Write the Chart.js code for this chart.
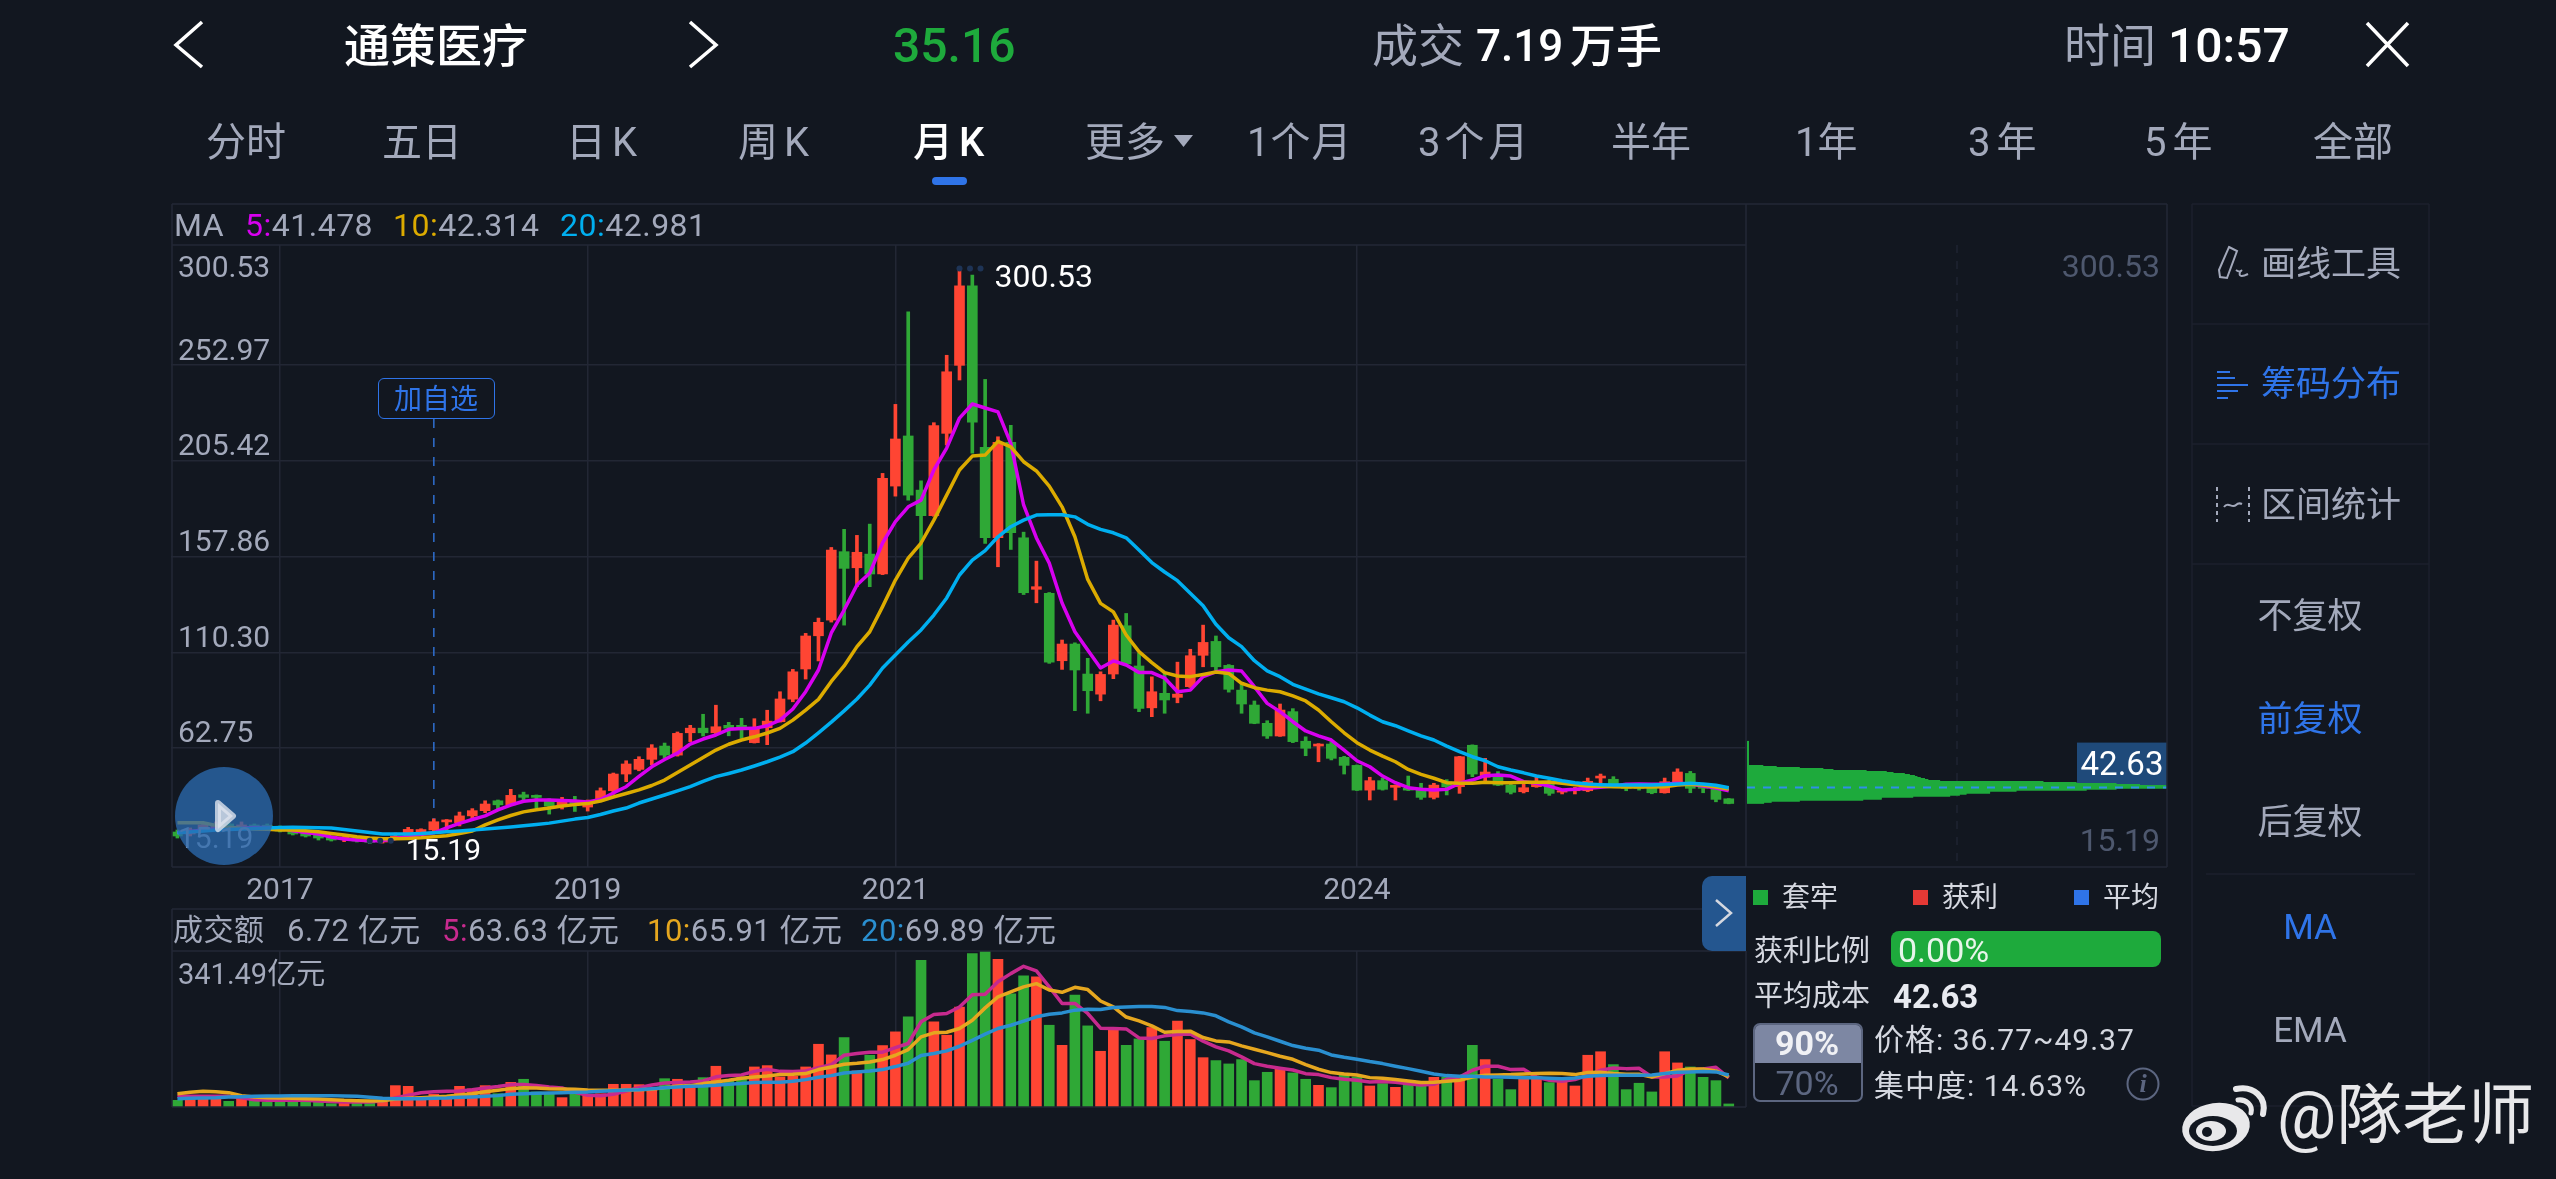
<!DOCTYPE html>
<html lang="zh">
<head>
<meta charset="utf-8">
<title>通策医疗 月K</title>
<script src="https://cdn.jsdelivr.net/npm/chart.js@4"></script>
<style>
  html, body { margin: 0; padding: 0; background: #121720; }
  body { width: 2556px; height: 1179px; overflow: hidden; position: relative; font-family: Roboto, "Noto Sans CJK SC", sans-serif; color: #a3a9bb; }
  canvas { position: absolute; display: block; }
  #mainChart { left: 171px; top: 245px; z-index: 1; }
  #volChart { left: 171px; top: 951px; z-index: 1; }
  #sidePanel { position: absolute; left: 1747px; top: 205px; width: 420px; height: 661px; background: #121720; z-index: 2; }
  #chipChart { left: 0; top: 40px; }
  #ui { position: absolute; left: 0; top: 0; z-index: 3; }
  .t { position: absolute; white-space: nowrap; line-height: 1; transform: translateY(-50%); z-index: 4; }
  .c { transform: translate(-50%, -50%); }
  .tab { font-size: 40px; }
  .hd { font-size: 32px; letter-spacing: 0.5px; }
  .hd2 { font-size: 31px; letter-spacing: 0.5px; }
  .menu { font-size: 35px; }
  .st { font-size: 28px; color: #d5d8e0; }
  .st2 { font-size: 30px; letter-spacing: 1px; color: #d5d8e0; }
  .w { color: #fff; font-weight: 500; }
  .blue { color: #2f74e8; }
  #addBox { position: absolute; left: 378px; top: 378px; width: 115px; height: 39px; border: 1.5px solid #2f74e8; border-radius: 6px; z-index: 4; }
  #greenBar { position: absolute; left: 1891px; top: 931px; width: 270px; height: 36px; background: #1eaa3c; border-radius: 8px; z-index: 4; }
  #rangeBox { position: absolute; left: 1753px; top: 1023px; width: 106px; height: 75px; border: 2px solid #5c6680; border-radius: 7px; overflow: hidden; z-index: 4; }
  #rangeBox div { height: 38px; background: #7d87a3; }
  #playBtn { position: absolute; left: 175px; top: 767px; z-index: 6; }
</style>
</head>
<body>

<canvas id="mainChart" width="1577" height="663"></canvas>
<canvas id="volChart" width="1577" height="156"></canvas>
<div id="sidePanel"><canvas id="chipChart" width="420" height="621"></canvas></div>

<!-- 边框和小图标 -->
<svg id="ui" width="2556" height="1179" fill="none">
  <g stroke="#232836" stroke-width="1.5">
    <path d="M172 204H2167M172 245H1746M172 867H2167M172 909H1746M172 951H1746M172 1107H1746"/>
    <path d="M172 204V867M172 909V1107M1746 204V867M1746 951V1107M2167 204V867"/>
  </g>
  <g stroke="#1c212c" stroke-width="1.5">
    <path d="M2192 204H2429M2192 324H2429M2192 444H2429M2192 564H2429M2192 1106H2429M2206 874H2415M2192 204V1106M2429 204V1106"/>
  </g>
  <g stroke="#fff" stroke-width="3.5" stroke-linejoin="miter">
    <path d="M202 22L176 45L202 67M690 22L716 45L690 67M2367 23L2408 66M2408 23L2367 66"/>
  </g>
  <path d="M1174 135H1193L1183.5 147Z" fill="#a3a9bb"/>
  <rect x="932" y="177" width="35" height="8" rx="4" fill="#2f74e8"/>
  <g stroke="#a3a9bb" stroke-width="2">
    <path d="M2229 247L2237 251L2227 278L2220 277L2219 270Z"/>
    <path d="M2236 270C2241 274 2243 268 2240 272C2238 278 2244 276 2248 274"/>
    <path d="M2217 487V522M2249 487V522" stroke-dasharray="4 4"/>
    <path d="M2224 507C2228 501 2232 509 2236 505C2238 503 2240 503 2242 504"/>
  </g>
  <g stroke="#2f74e8" stroke-width="2">
    <path d="M2217 372H2230M2217 378H2235M2217 385H2248M2217 391H2238M2217 398H2228"/>
  </g>
  <path d="M1702 886a10 10 0 0 1 10-10H1746V951H1712a10 10 0 0 1-10-10Z" fill="#24568f"/>
  <path d="M1716 900L1731 913L1716 926" stroke="#d5d8e0" stroke-width="2.5"/>
  <circle cx="2143" cy="1084" r="15.5" stroke="#5c6680" stroke-width="2"/>
  <!-- 水印的微博标志 -->
  <g>
    <ellipse cx="2216" cy="1127" rx="34" ry="24" fill="#e8e8ea" transform="rotate(-8 2216 1127)"/>
    <ellipse cx="2213" cy="1131" rx="24" ry="15" fill="#121720"/>
    <ellipse cx="2211" cy="1131" rx="15" ry="10" fill="#e8e8ea"/>
    <circle cx="2207" cy="1132" r="5" fill="#121720"/>
    <path d="M2236 1089C2254 1085 2267 1098 2263 1114" stroke="#e8e8ea" stroke-width="6" stroke-linecap="round"/>
    <path d="M2238 1100C2246 1099 2253 1105 2251 1113" stroke="#e8e8ea" stroke-width="5" stroke-linecap="round"/>
  </g>
</svg>

<!-- 顶部行情栏 -->
<div class="t" style="left:344px;top:46px;font-size:46px;font-weight:500;color:#fff">通策医疗</div>
<div class="t" style="left:893px;top:46px;font-size:48px;font-weight:500;color:#1eaa3c">35.16</div>
<div class="t" style="left:1372px;top:46px;font-size:46px">成交</div>
<div class="t w" style="left:1476px;top:46px;font-size:44px">7.19</div>
<div class="t w" style="left:1570px;top:46px;font-size:46px">万手</div>
<div class="t" style="left:2064px;top:46px;font-size:46px">时间</div>
<div class="t w" style="left:2168px;top:46px;font-size:48px">10:57</div>

<!-- 周期切换 -->
<div class="t tab" style="left:206px;top:143px">分时</div>
<div class="t tab" style="left:382px;top:143px">五日</div>
<div class="t tab" style="left:566px;top:143px">日<span style="margin-left:6px">K</span></div>
<div class="t tab" style="left:738px;top:143px">周<span style="margin-left:6px">K</span></div>
<div class="t tab" style="left:913px;top:143px;font-weight:500;color:#fff">月<span style="margin-left:6px">K</span></div>
<div class="t tab" style="left:1085px;top:143px">更多</div>
<div class="t tab" style="left:1247px;top:143px;letter-spacing:1px">1个月</div>
<div class="t tab" style="left:1418px;top:143px;letter-spacing:4px">3个月</div>
<div class="t tab" style="left:1611px;top:143px">半年</div>
<div class="t tab" style="left:1795px;top:143px">1年</div>
<div class="t tab" style="left:1968px;top:143px;letter-spacing:6px">3年</div>
<div class="t tab" style="left:2144px;top:143px;letter-spacing:6px">5年</div>
<div class="t tab" style="left:2313px;top:143px">全部</div>

<!-- 均线数值 -->
<div class="t hd" style="left:174px;top:225px">MA</div>
<div class="t hd" style="left:245px;top:225px"><span style="color:#d800f0">5:</span>41.478</div>
<div class="t hd" style="left:393px;top:225px"><span style="color:#dcab00">10:</span>42.314</div>
<div class="t hd" style="left:560px;top:225px"><span style="color:#00aff0">20:</span>42.981</div>

<div class="t hd2" style="left:173px;top:930px;font-size:30px">成交额</div>
<div class="t hd2" style="left:287px;top:930px">6.72 亿元</div>
<div class="t hd2" style="left:442px;top:930px"><span style="color:#c72a8e">5:</span>63.63 亿元</div>
<div class="t hd2" style="left:647px;top:930px"><span style="color:#e6a71f">10:</span>65.91 亿元</div>
<div class="t hd2" style="left:861px;top:930px"><span style="color:#2a8fd0">20:</span>69.89 亿元</div>
<div class="t" style="left:178px;top:974px;font-size:29px">341.49亿元</div>

<div id="addBox"></div>
<div class="t c blue" style="left:436px;top:400px;font-size:28px">加自选</div>

<!-- 筹码分布说明 -->
<svg style="position:absolute;left:1753px;top:890px;z-index:4" width="340" height="16">
  <rect x="0" y="0" width="15" height="15" fill="#1eaa3c"/>
  <rect x="160" y="0" width="15" height="15" fill="#e53935"/>
  <rect x="321" y="0" width="15" height="15" fill="#2f74e8"/>
</svg>
<div class="t st" style="left:1782px;top:898px">套牢</div>
<div class="t st" style="left:1942px;top:898px">获利</div>
<div class="t st" style="left:2103px;top:898px">平均</div>
<div class="t st" style="left:1754px;top:951px;font-size:29px">获利比例</div>
<div id="greenBar"></div>
<div class="t" style="left:1898px;top:950px;font-size:34px;color:#e8f5ea;z-index:5">0.00%</div>
<div class="t st" style="left:1754px;top:996px;font-size:29px">平均成本</div>
<div class="t" style="left:1893px;top:996px;font-size:33px;font-weight:700;color:#e8eaf0">42.63</div>
<div id="rangeBox"><div></div></div>
<div class="t c" style="left:1807px;top:1043px;font-size:34px;font-weight:700;color:#f0f1f5;z-index:5">90%</div>
<div class="t c" style="left:1807px;top:1083px;font-size:34px;color:#5c6680;z-index:5">70%</div>
<div class="t st2" style="left:1874px;top:1040px">价格: 36.77~49.37</div>
<div class="t st2" style="left:1874px;top:1086px">集中度: 14.63%</div>
<div class="t c" style="left:2143px;top:1084px;font-size:26px;font-style:italic;font-weight:700;font-family:'Liberation Serif',serif;color:#5c6680">i</div>

<!-- 右侧菜单 -->
<div class="t menu" style="left:2261px;top:264px">画线工具</div>
<div class="t menu blue" style="left:2261px;top:384px">筹码分布</div>
<div class="t menu" style="left:2261px;top:505px">区间统计</div>
<div class="t c menu" style="left:2310px;top:616px">不复权</div>
<div class="t c menu blue" style="left:2310px;top:719px">前复权</div>
<div class="t c menu" style="left:2310px;top:822px">后复权</div>
<div class="t c menu blue" style="left:2310px;top:927px">MA</div>
<div class="t c menu" style="left:2310px;top:1030px">EMA</div>
<div class="t" style="left:2277px;top:1116px;font-size:66px;color:#e8e8ea;z-index:7">@隊老师</div>

<svg id="playBtn" width="98" height="98">
  <circle cx="49" cy="49" r="49" fill="#2a69ad" fill-opacity="0.78"/>
  <path d="M43 36L58 49L43 62Z" fill="#dfe4ee" fill-opacity="0.8" stroke="#dfe4ee" stroke-opacity="0.8" stroke-width="6" stroke-linejoin="round"/>
</svg>

<script>
// 月份，2016-05 到 2026-06，最后留一格空白
const months = [
  "2016-05","2016-06","2016-07","2016-08","2016-09","2016-10","2016-11","2016-12",
  "2017-01","2017-02","2017-03","2017-04","2017-05","2017-06","2017-07","2017-08","2017-09","2017-10","2017-11","2017-12",
  "2018-01","2018-02","2018-03","2018-04","2018-05","2018-06","2018-07","2018-08","2018-09","2018-10","2018-11","2018-12",
  "2019-01","2019-02","2019-03","2019-04","2019-05","2019-06","2019-07","2019-08","2019-09","2019-10","2019-11","2019-12",
  "2020-01","2020-02","2020-03","2020-04","2020-05","2020-06","2020-07","2020-08","2020-09","2020-10","2020-11","2020-12",
  "2021-01","2021-02","2021-03","2021-04","2021-05","2021-06","2021-07","2021-08","2021-09","2021-10","2021-11","2021-12",
  "2022-01","2022-02","2022-03","2022-04","2022-05","2022-06","2022-07","2022-08","2022-09","2022-10","2022-11","2022-12",
  "2023-01","2023-02","2023-03","2023-04","2023-05","2023-06","2023-07","2023-08","2023-09","2023-10","2023-11","2023-12",
  "2024-01","2024-02","2024-03","2024-04","2024-05","2024-06","2024-07","2024-08","2024-09","2024-10","2024-11","2024-12",
  "2025-01","2025-02","2025-03","2025-04","2025-05","2025-06","2025-07","2025-08","2025-09","2025-10","2025-11","2025-12",
  "2026-01","2026-02","2026-03","2026-04","2026-05","2026-06",""
];
const yearTicks = { "2017-01": "2017", "2019-01": "2019", "2021-01": "2021", "2024-01": "2024" };
const priceTicks = [252.97, 205.42, 157.86, 110.30, 62.75];
const priceHigh = 300.53;
const priceLow = 15.19;
const avgCost = 42.63;

// K线
const opens = [21,20,22.5,23,25,23,24.5,24.4,23.5,21.5,
  20.5,19.5,18.5,17.5,17.5,16.8,16,17.8,20.6,20.6,
  22,26,25.6,29,31.6,36.5,34.5,39.5,39.2,36.5,
  34.5,36.1,33.4,36.9,41.5,49.8,52.1,57.1,63.7,59.2,
  70.3,72.6,70.3,74,74,65.4,72.8,75.8,87,102,
  118.5,126.3,160.3,152.3,159.1,149.2,192.9,217.8,190.9,178.2,
  219.1,252.9,292.4,212.1,167.2,214.6,167.2,141.6,139.6,106.1,
  114.4,99.5,89.5,99.5,123.5,103.5,82.7,89.9,87.9,93.2,
  108.8,115.7,103.8,91.5,84.1,75,68.7,80.8,66.1,63.7,
  64.7,58.1,54.1,41.8,46.5,43.2,42.7,41.8,38.2,46,
  43.5,64.1,48.2,49.3,44.3,41,43.5,46,40.8,41.5,
  41.5,47.8,47.2,44.8,44.8,43.5,40.5,45.2,50.1,44.3,
  42.3,37.5];
const closes = [19,22,24.5,25,23,24.5,23,23.2,21.5,20,
  19,18,17,18.5,16.5,15.9,16.5,19,22.3,22.2,
  26.1,27,29,31.6,34.9,34.5,39.2,38.2,38.2,33.9,
  36.5,34.4,35.9,41.5,49.8,54.8,57.1,62.7,59.2,70,
  72.6,70.3,73.3,72.6,73,73,76.1,87.1,100.6,118.4,
  125.2,161.1,152,160,149.2,196.7,216.3,188.4,178.2,222.9,
  249.7,292.4,224.6,167.2,214.6,169.7,139.9,142.9,105.4,114.4,
  101.5,91.2,99.3,123.8,104.5,82.4,90.7,86.6,89.5,108.6,
  115.2,103.1,91.9,84.6,75,68.7,81.6,65.9,62.6,64.7,
  57.6,54.1,41.8,46.5,42.2,44.2,41.8,38.2,44.3,43.5,
  58.4,49.8,50.8,44.3,40.7,43,46,40.2,41.5,42.7,
  46.2,48.8,44.3,42.7,42.7,40.5,46,50.8,42.7,42.7,
  37.2,35.16];
const highs = [22,23,25.5,26,25.6,26,25,25,24,22,
  21,20,19,19,18,17.2,17,20.5,23.3,22.6,
  27.6,27.2,30.9,32.6,36.5,36.9,42.2,40.8,39.4,37.5,
  38.2,38.7,36.9,42.9,50.3,56.4,58.4,64.4,65.2,70.7,
  74,79.5,84,75.5,77.5,77.3,81.5,90.7,101.8,119.7,
  127.3,162.4,171.4,168.4,174,199.2,233.5,279.5,195.5,224.4,
  257.9,300.53,297.8,245.9,217.4,223.1,170,155.6,140,116.4,
  115,107.3,100.6,126.3,129.6,109.8,98.1,99.8,105.4,111.8,
  123.8,118.4,104.2,94.9,86.1,76.3,84.6,82.3,68.3,64.9,
  65.9,58.6,54.3,48.2,47.8,44.4,48.8,45.2,45.2,47,
  58.6,64.3,57.6,51,46,45.2,48.2,47,42.3,43.2,
  47.8,49.8,48.5,45.2,45.2,44.5,47.8,52.4,51.1,45,
  42.8,37.6];
const lows = [18,19,21.5,22,22.4,22.5,22.5,22.4,21,19.5,
  18.5,17,16.5,16.2,16,15.19,15.5,17.5,20.3,20.2,
  20.5,21.6,24,27.6,30.6,31.9,34.2,35.9,32.9,29.9,
  32.4,31.2,31.4,36.4,39.7,46,51.4,54.3,57.6,58.7,
  65.9,68.7,69.9,68.8,67.5,65.2,64.4,75.6,85.7,97,
  106,125.3,123.8,142.9,142.9,148.9,187.9,185.9,146.5,177.9,
  213.3,245.6,209.2,164.4,152.8,161.4,139,134.9,104.8,101.8,
  81.3,80,86.2,97.2,104,80.8,78.3,80,85.2,92.8,
  103.1,101.5,90.5,80,74.8,67.5,68.5,65.4,58.9,55.9,
  56.8,49.8,41.6,36.9,41.8,36.9,41.6,37.2,37.4,39.4,
  40.2,48.5,46,44,39.9,40.4,43.2,39.2,39.9,39.9,
  41,44.8,43.5,41.5,41.8,40,40.3,44.9,40.5,40.5,
  36,35];

// 价格均线
const ma5 = [20.7,21.2,22,22.5,22.7,23,23.2,23.2,23,21.6,
  20.7,20,18.5,17.5,17,16.7,16.7,17.7,19,19.7,
  20.6,23,25.3,27.2,29,32,34.4,36.3,36.9,36.9,
  36.6,36.4,35.9,37.1,40.4,43.5,48.6,53.4,57,60.2,
  64.7,67.2,69.2,72,72.4,72.5,73.8,76.6,82.1,90.7,
  101.5,119.9,131.3,143.7,149.7,164.6,175.2,182.6,185.9,200.9,
  211.8,226.7,233.7,231.7,229.8,214.1,183.5,167.1,154.6,134.8,
  120.5,111.4,102.5,106,104,100.3,100.2,97.5,90.7,91.5,
  98.2,100.6,101.5,101,93.2,84.9,80.8,75.8,71.2,68.8,
  66.7,61.7,56.4,53.4,48.8,45.5,43,42.2,41.9,42.2,
  45.2,46.8,49,49.3,48.8,46,45.2,43.8,41.9,42.2,
  42.7,43.2,43.8,44.7,44.9,44.7,44.8,45.2,44.8,43.8,
  42.8,41.478];
const ma10 = [25.6,25.6,25.6,24.3,23.3,22.8,22.5,22.3,22,22,
  21.6,21.1,20.3,19.5,18.6,18,17.6,17.6,17.8,18.1,
  18.6,19.1,20.2,21.5,24.5,27,29.2,31,32,32.9,
  33.9,34.6,35.1,36.4,38.4,40.1,41.9,44.1,46.8,50.6,
  54.3,58,61.7,64.6,66.7,68.3,70.2,72.5,76.6,81.6,
  86.9,95.8,103.5,113.1,120.5,133,146.2,157.1,164.6,176,
  188.4,200.9,207.8,208.3,215.1,212.4,205,200.4,192.9,182.6,
  167.7,146.5,134.6,130.4,118.9,110.6,105.2,100.2,98.5,98.2,
  99.3,100.5,99.8,94.9,92.7,91.5,90.7,88.6,86.1,81.6,
  75.8,70.3,65.4,61.7,58.7,55.9,52.1,49.6,47.7,45.5,
  45.2,45.2,45.7,45.5,45.5,45.7,45.7,45.8,45.2,44.5,
  43.8,43.7,43.5,43.3,43.3,43.3,43.5,44.3,44.7,44.3,
  43.3,42.314];
const ma20 = [20.6,21,21.5,22,22.2,22.5,22.7,23,23.2,23.3,
  23.2,23.1,23,22.2,21.5,20.7,20,20,20,20.2,
  20.6,21.1,21.5,22,22.5,23,23.5,24.1,24.7,25.4,
  26.4,27.4,28.2,29.7,31.4,32.9,35.4,37.4,39.4,41.4,
  43.5,46.1,48.5,50.1,51.8,53.8,55.9,58.2,60.9,65.2,
  70.3,75.6,81.2,87.1,94,102.5,108.9,115.4,121.4,128.8,
  137.3,148.7,156.1,160.8,167.7,172.7,176,178.5,178.6,178.6,
  177.6,173.9,171.4,169.7,167.2,161.1,154.9,150.2,145.9,139.6,
  133.4,124.2,117.5,113.1,106.1,101.1,98.2,94.4,92,89.6,
  87.7,85.7,82.7,79.1,75.8,73.8,71.3,68.8,66.7,63.7,
  60.9,58.4,56.4,53.4,51.8,50.4,48.8,47.7,46.5,45.5,
  44.8,44.5,44.3,44.3,44.3,44.3,44.6,44.9,45.2,44.9,
  44.2,42.981];

// 成交额（亿元）
const volumes = [14.6,22,20,20,12.4,22,17.5,11,14.6,13,
  11.7,11,7.3,8.8,8.8,8.8,11,46.8,45.3,22,
  27.8,18.3,45.3,39.5,46.8,29.2,54,60.7,32.9,29.2,
  20.5,29.2,25.6,29,49.7,49.7,49,36.6,62,60.7,
  43.9,64.3,89.2,58.5,65.8,87.7,90.6,65.8,67.3,87.7,
  137.4,114,152,79,113.3,134.5,164.5,197.4,321,186.4,
  157.2,219,336,341.49,323,248,287,285,179,135,
  245,177.6,122,170,135,149,174,144,188,147.7,
  108,101.6,94.3,103.8,57.7,76,84,74.6,60.7,47.5,
  42.4,69.4,65.8,46,51.2,43,51,46,65,65.8,
  60,135,103.8,60.7,38,65.8,62,53.4,58.5,46,
  113.3,121,92.8,38,52,33,121,96.5,87.7,65,
  57.7,6.72];
const volMa5 = [23.4,23.4,23.4,23.4,23.4,20,16,14.6,14.6,14.6,
  14.6,13.2,12,11,11,11,13.2,20,25.6,31,
  33.6,34.4,35,38,41.7,45,49,49,47,43.9,
  41.7,32,25.6,24.5,27.8,35,42.4,48,52.6,53.4,
  54.8,57,66,68.7,70.2,78,82.6,78,77.5,79,
  86,92.8,113.3,117,120,120,130,139,186.4,202.5,
  204.7,219,245.6,247,274,292,308,298,263,226.6,
  226.6,204.7,172.5,171.8,171,151.3,149.9,155.7,158.6,160,
  144,131.6,122.8,109.7,95,89.2,84.8,81,73,70.9,
  64.3,60.7,58.5,54.8,55.6,54,51,48,49.7,60.7,
  65.8,80.4,89.2,89.2,81.9,82.6,65.8,58.5,56.3,60,
  69.4,80.4,85.5,84,84.8,65.8,65.8,68,80.4,83.3,
  87,63.63];
const volMa10 = [29.2,32.2,34.4,33.6,31.4,24.9,21.9,20.5,19.7,19,
  18.3,17.5,16.1,14.6,13.9,13.2,13.9,17.5,19,20.5,
  21.9,23.4,26.3,29.2,33.6,36.6,40.2,42.4,41.7,40.2,
  39.5,38.7,37.3,36.6,36.6,37.3,38,38.7,42.4,45.3,
  46.8,51.2,54.8,58.5,62.9,65.8,68,70.9,71.6,73.1,
  81.9,87.7,93.6,95.8,98.7,103.8,113.3,125.7,153.5,162.3,
  163.7,171.8,190,217,241,252,263,270,256,251,
  262,257,232,219,197,188.6,177.6,163.7,165.2,166,
  152,144.7,142.5,133.8,126.5,119,111,104.5,92.8,82.6,
  75.3,72.4,70.2,64.3,62.9,60,57,53.4,54,56.3,
  58.5,65.8,69.4,70.2,70.9,72.4,73.1,73.8,73.1,70.9,
  75.3,76,73.1,71.6,71.6,65.8,73.1,80.4,83.3,83.3,
  79,65.91];
const volMa20 = [18.3,19,19.7,20.5,22,22.7,23.4,24.1,24.1,24.9,
  24.9,24.9,24.9,24.1,23.4,21.2,19,18.3,18.3,18.3,
  19,19.7,21.2,22,23.4,24.9,27.8,29.2,30,30.7,
  31.4,32.2,32.9,34.4,35.8,37.3,38,40.2,42.4,43.9,
  45.3,46,47.5,49.7,51.2,53.4,54.1,54.1,56.3,59.9,
  65,68.7,74.6,76.8,78.9,81.9,88.5,95.8,112.6,117,
  122.8,133,146,159.4,171.8,179,188,197.4,203,206,
  212,214,213.5,218,219,220,220,218,211,209,
  206,199.6,186.4,175.4,162.3,153.5,144,134.5,128.7,124.3,
  114,108.9,104.5,99.4,95,89.2,84,78.2,72.4,68.7,
  67.3,67.3,65.8,65.8,65,64.3,64.3,62.9,62.1,63.6,
  67.3,68.7,69.4,69.4,69.4,70.2,73.1,76,76.8,77.5,
  76.8,69.89];

// 筹码分布：价位和相对筹码量
const chipPrices = [65.2,64.7,64.2,63.7,63.2,62.7,62.2,61.7,61.2,60.7,
  60.2,59.7,59.2,58.7,58.2,57.7,57.2,56.7,56.2,55.7,
  55.2,54.7,54.2,53.7,53.2,52.7,52.2,51.7,51.2,50.7,
  50.2,49.7,49.2,48.7,48.2,47.7,47.2,46.7,46.2,45.7,
  45.2,44.7,44.2,43.7,43.2,42.7,42.2,41.7,41.2,40.7,
  40.2,39.7,39.2,38.7,38.2,37.7,37.2,36.7,36.2,35.7,35.2];
const chipWeights = [0.4,0.4,0.4,0.4,0.4,0.4,0.4,0.4,0.4,0.4,
  0.4,0.4,0.4,0.4,0.4,0.4,0.4,0.4,0.4,0.4,
  0.4,0.4,0.4,0.4,3.8,7,12.5,18.1,20.5,28.4,
  33.2,34.8,37.5,38.7,39.9,40.5,41.3,42.3,43.1,45.9,
  70.5,78.4,87.9,93.5,99.8,99.8,87.9,80.8,64.1,57.8,
  57.8,52.2,50.6,48.3,39.5,32,32,27.6,12.5,5.8,4];

const RED = "#ff4533";
const GREEN = "#2fa836";
const GRID = "#222734";
const TICK = "#a3a9bb";
const yMin = 3.6;
const yMax = 312.7;

Chart.defaults.font.family = 'Roboto, "Noto Sans CJK SC", sans-serif';
Chart.defaults.animation = false;
Chart.defaults.plugins.legend.display = false;
Chart.defaults.plugins.tooltip.enabled = false;

const upDown = (ctx) => closes[ctx.dataIndex] >= opens[ctx.dataIndex] ? RED : GREEN;
const yearGrid = (ctx) => yearTicks[months[ctx.index]] ? GRID : "transparent";

function maLine(values, color, width) {
  return { type: "line", data: values, borderColor: color, borderWidth: width, pointRadius: 0, tension: 0, order: 0, borderJoinStyle: "round" };
}

// 坐标轴不占绘图区的位置
function flatAxis(scale, size) {
  if (scale.isHorizontal()) {
    scale.height = size;
  } else {
    scale.width = size;
  }
  scale.paddingTop = 0;
  scale.paddingBottom = 0;
  scale.paddingLeft = 0;
  scale.paddingRight = 0;
}

// 最高、最低价标注和加自选的虚线
const priceMarks = {
  id: "priceMarks",
  afterDatasetsDraw(chart) {
    const { ctx, scales: { x, y }, chartArea } = chart;
    ctx.save();
    ctx.textBaseline = "middle";
    ctx.font = '30px Roboto, sans-serif';
    ctx.fillStyle = TICK;
    ctx.fillText(priceHigh.toFixed(2), chartArea.left + 7, y.getPixelForValue(priceHigh));
    ctx.fillText(priceLow.toFixed(2), chartArea.left + 7, y.getPixelForValue(priceLow) - 3);

    const hiX = x.getPixelForValue(highs.indexOf(priceHigh));
    const loX = x.getPixelForValue(lows.indexOf(priceLow));
    ctx.fillStyle = "#1e3456";
    [0, 10.5, 21].forEach(d => {
      ctx.beginPath();
      ctx.arc(hiX + d, y.getPixelForValue(priceHigh) - 1, 3, 0, Math.PI * 2);
      ctx.fill();
      ctx.beginPath();
      ctx.arc(loX + d, y.getPixelForValue(priceLow) - 3, 3, 0, Math.PI * 2);
      ctx.fill();
    });
    ctx.fillStyle = "#fff";
    ctx.font = '32px Roboto, sans-serif';
    ctx.fillText(priceHigh.toFixed(2), hiX + 35, y.getPixelForValue(priceHigh) + 10);
    ctx.font = '30px Roboto, sans-serif';
    ctx.fillText(priceLow.toFixed(2), loX + 36, y.getPixelForValue(priceLow) + 9);

    ctx.strokeStyle = "#2f6fd0";
    ctx.lineWidth = 1.5;
    ctx.setLineDash([9, 10]);
    const addX = x.getPixelForValue(months.indexOf("2018-01"));
    ctx.beginPath();
    ctx.moveTo(addX, 174);
    ctx.lineTo(addX, y.getPixelForValue(highs[months.indexOf("2018-01")]));
    ctx.stroke();
    ctx.restore();
  }
};

new Chart(document.getElementById("mainChart"), {
  type: "bar",
  data: {
    labels: months,
    datasets: [
      maLine(ma20, "#00aff0", 3.5),
      maLine(ma10, "#dcab00", 3.5),
      maLine(ma5, "#d800f0", 3.5),
      { data: opens.map((o, i) => [o, closes[i]]), backgroundColor: upDown, barThickness: 10, grouped: false, order: 1 },
      { data: lows.map((l, i) => [l, highs[i]]), backgroundColor: upDown, barThickness: 3, grouped: false, order: 2 }
    ]
  },
  options: {
    responsive: false,
    layout: { padding: 0, autoPadding: false },
    scales: {
      x: {
        offset: true,
        afterFit(scale) { flatAxis(scale, 41); },
        border: { display: false },
        grid: { offset: false, color: yearGrid, drawTicks: false, lineWidth: 1.5 },
        ticks: {
          autoSkip: false, maxRotation: 0, padding: 6, color: TICK, font: { size: 30 },
          callback: (v, i) => yearTicks[months[i]] || ""
        }
      },
      y: {
        min: yMin, max: yMax,
        afterBuildTicks(scale) { scale.ticks = priceTicks.map(v => ({ value: v })); },
        afterFit(scale) { flatAxis(scale, 0); },
        border: { display: false },
        grid: { color: GRID, drawTicks: false, lineWidth: 1.5 },
        ticks: { mirror: true, padding: 7, labelOffset: -13, color: TICK, font: { size: 30 }, callback: v => v.toFixed(2) }
      }
    }
  },
  plugins: [priceMarks]
});

new Chart(document.getElementById("volChart"), {
  type: "bar",
  data: {
    labels: months,
    datasets: [
      maLine(volMa20, "#2a8fd0", 3.5),
      maLine(volMa10, "#e6a71f", 3.5),
      maLine(volMa5, "#c72a8e", 3.5),
      { data: volumes, backgroundColor: upDown, barThickness: 10, order: 1 }
    ]
  },
  options: {
    responsive: false,
    layout: { padding: 0, autoPadding: false },
    scales: {
      x: {
        offset: true,
        afterFit(scale) { flatAxis(scale, 0); },
        border: { display: false },
        grid: { offset: false, color: yearGrid, drawTicks: false, lineWidth: 1.5 },
        ticks: { display: false }
      },
      y: { display: false, min: 0, max: 341.49 }
    }
  }
});

// 平均成本的标签和虚线
const costMark = {
  id: "costMark",
  beforeDatasetsDraw(chart) {
    const { ctx, scales: { y }, chartArea } = chart;
    const costY = y.getPixelForValue(avgCost);
    ctx.save();
    ctx.strokeStyle = "#1f2532";
    ctx.lineWidth = 1.5;
    ctx.setLineDash([8, 8]);
    ctx.beginPath();
    ctx.moveTo(210, chartArea.top);
    ctx.lineTo(210, chartArea.bottom);
    ctx.stroke();
    ctx.fillStyle = "#1f4a7a";
    ctx.fillRect(chartArea.right - 90, costY - 45, 90, 45);
    ctx.fillStyle = "#fff";
    ctx.font = '33px Roboto, sans-serif';
    ctx.textAlign = "center";
    ctx.textBaseline = "middle";
    ctx.fillText(avgCost.toFixed(2), chartArea.right - 45, costY - 21);
    ctx.restore();
  },
  afterDatasetsDraw(chart) {
    const { ctx, scales: { y }, chartArea } = chart;
    const costY = y.getPixelForValue(avgCost);
    ctx.save();
    ctx.strokeStyle = "#2f8fe8";
    ctx.lineWidth = 2;
    ctx.setLineDash([8, 8]);
    ctx.beginPath();
    ctx.moveTo(chartArea.left, costY);
    ctx.lineTo(chartArea.right, costY);
    ctx.stroke();
    ctx.restore();
  }
};

new Chart(document.getElementById("chipChart"), {
  type: "bar",
  data: {
    datasets: [{
      data: chipWeights.map((w, i) => ({ x: w, y: chipPrices[i] })),
      backgroundColor: "#1eaa3c",
      barThickness: 2
    }]
  },
  options: {
    responsive: false,
    indexAxis: "y",
    layout: { padding: 0, autoPadding: false },
    scales: {
      x: { display: false, type: "linear", min: 0, max: 100 },
      y: {
        type: "linear", position: "right", min: yMin, max: yMax, offset: false,
        afterBuildTicks(scale) { scale.ticks = [priceHigh, priceLow].map(v => ({ value: v })); },
        afterFit(scale) { flatAxis(scale, 0); },
        border: { display: false },
        grid: { display: false },
        ticks: { mirror: true, padding: -7, color: "#4e586e", font: { size: 32 }, callback: v => v.toFixed(2) }
      }
    }
  },
  plugins: [costMark]
});
</script>
</body>
</html>
